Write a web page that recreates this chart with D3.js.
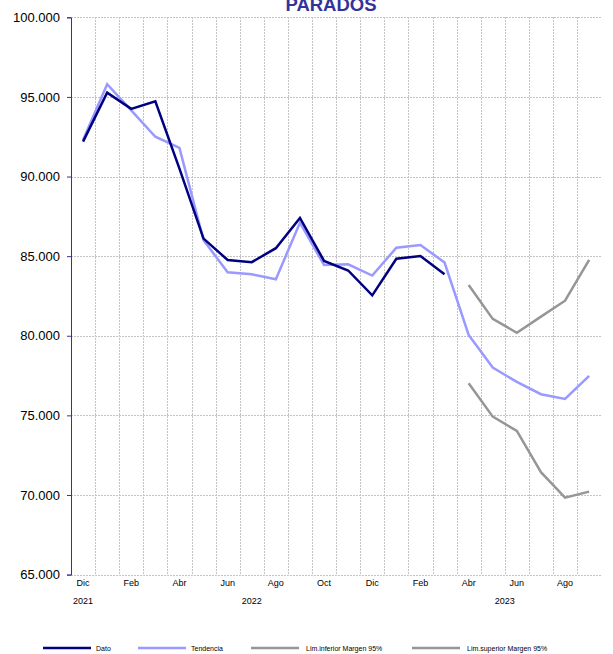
<!DOCTYPE html>
<html>
<head>
<meta charset="utf-8">
<script src="https://cdn.jsdelivr.net/npm/d3@7/dist/d3.min.js"></script>
<style>
  html, body { margin: 0; padding: 0; background: #fff; }
  svg { display: block; font-family: "Liberation Sans", Arial, sans-serif; }
</style>
</head>
<body>
<svg id="chart" width="613" height="654"></svg>
<script>
// Monthly categories, Dec 2021 – Sep 2023
const months = ['Dic','Ene','Feb','Mar','Abr','May','Jun','Jul','Ago','Sep','Oct','Nov',
                'Dic','Ene','Feb','Mar','Abr','May','Jun','Jul','Ago','Sep'];
const years  = ['2021','2022','2022','2022','2022','2022','2022','2022','2022','2022','2022','2022',
                '2022','2023','2023','2023','2023','2023','2023','2023','2023','2023'];

// Observed values
const dato = [92190, 95270, 94250, 94730, 90500, 86100, 84760, 84620, 85500, 87400, 84700, 84100,
              82540, 84840, 85010, 83870, null, null, null, null, null, null];
// Trend (with forecast)
const tendencia = [92300, 95800, 94150, 92500, 91800, 86000, 83990, 83860, 83550, 87100, 84440, 84490,
                   83780, 85530, 85700, 84600, 80050, 78000, 77100, 76330, 76030, 77480];
// 95% confidence band of the forecast
const limInferior = [null, null, null, null, null, null, null, null, null, null, null, null,
                     null, null, null, null, 77020, 74920, 74020, 71430, 69830, 70210];
const limSuperior = [null, null, null, null, null, null, null, null, null, null, null, null,
                     null, null, null, null, 83190, 81060, 80190, 81200, 82200, 84760];

const yTicks = [65000, 70000, 75000, 80000, 85000, 90000, 95000, 100000];

const series = [
  { name: 'Dato', values: dato, color: '#000080' },
  { name: 'Tendencia', values: tendencia, color: '#9999ff' },
  { name: 'Lim.inferior Margen 95%', values: limInferior, color: '#969696' },
  { name: 'Lim.superior Margen 95%', values: limSuperior, color: '#969696' }
];

const svg = d3.select('#chart');
const plot = { left: 71, right: 601.2, top: 17.3, bottom: 574.6 };

const x = d3.scaleBand().domain(d3.range(months.length)).range([plot.left, plot.right]).padding(0);
const y = d3.scaleLinear().domain([65000, 100000]).range([plot.bottom, plot.top]);
const bw = x.bandwidth();

const esLocale = d3.formatLocale({ decimal: ',', thousands: '.', grouping: [3], currency: ['', ''] });
const fmt = esLocale.format(',.0f');

// Grid
const grid = svg.append('g').attr('stroke', '#c4c4c4').attr('stroke-width', 1)
  .attr('stroke-dasharray', '2,1').attr('shape-rendering', 'crispEdges');
grid.selectAll('line.h').data(yTicks).join('line')
  .attr('class', 'h')
  .attr('x1', plot.left).attr('x2', plot.right)
  .attr('y1', d => Math.round(y(d)) + 0.5).attr('y2', d => Math.round(y(d)) + 0.5);
grid.selectAll('line.v').data(d3.range(1, months.length)).join('line')
  .attr('class', 'v')
  .attr('x1', d => Math.round(x(d)) + 0.5).attr('x2', d => Math.round(x(d)) + 0.5)
  .attr('y1', plot.top).attr('y2', plot.bottom);

// Y axis
const yAxis = svg.append('g')
  .attr('transform', `translate(${plot.left},0)`)
  .call(d3.axisLeft(y).tickValues(yTicks).tickFormat(fmt).tickSize(4).tickPadding(7));
yAxis.select('.domain').attr('stroke', '#333399').attr('stroke-width', 1);
yAxis.selectAll('.tick line').attr('stroke', '#333399');
yAxis.selectAll('.tick text').attr('fill', '#000').style('font-size', '13px')
  .style('font-family', '"Liberation Sans", Arial, sans-serif');

// X axis month labels (every other month)
svg.append('g').selectAll('text').data(d3.range(0, months.length, 2)).join('text')
  .attr('x', d => x(d) + bw / 2).attr('y', 586)
  .attr('text-anchor', 'middle').attr('font-size', 9).attr('fill', '#000')
  .text(d => months[d]);

// Year labels
const yearGroups = d3.groups(d3.range(months.length), i => years[i]);
const yearPos = {
  '2021': i => x(i[0]) + bw / 2,
  '2022': i => x(7) + bw / 2,
  '2023': i => x(18)
};
svg.append('g').selectAll('text').data(yearGroups).join('text')
  .attr('x', d => yearPos[d[0]](d[1])).attr('y', 604)
  .attr('text-anchor', 'middle').attr('font-size', 9).attr('fill', '#000')
  .text(d => d[0]);

// Lines
const line = d3.line()
  .defined(d => d.v != null)
  .x(d => x(d.i) + bw / 2)
  .y(d => y(d.v));

svg.append('g').selectAll('path').data(series.slice().reverse()).join('path')
  .attr('fill', 'none')
  .attr('stroke', d => d.color)
  .attr('stroke-width', 2.5)
  .attr('stroke-linejoin', 'miter')
  .attr('d', d => line(d.values.map((v, i) => ({ i, v }))));

// Title
svg.append('text')
  .attr('x', 331).attr('y', 11)
  .attr('text-anchor', 'middle')
  .attr('font-size', 18.5).attr('font-weight', 'bold').attr('fill', '#333399')
  .text('PARADOS');

// Legend
const legendX = [43, 138, 251, 412];
const legend = svg.append('g').selectAll('g').data(series).join('g')
  .attr('transform', (d, i) => `translate(${legendX[i]},648)`);
legend.append('line')
  .attr('x1', 0).attr('x2', 48).attr('y1', 0).attr('y2', 0)
  .attr('stroke', d => d.color).attr('stroke-width', 2.5);
legend.append('text')
  .attr('x', (d, i) => i < 2 ? 53 : 55).attr('y', 2.5)
  .attr('font-size', 7).attr('fill', '#000')
  .text(d => d.name);
</script>
</body>
</html>
